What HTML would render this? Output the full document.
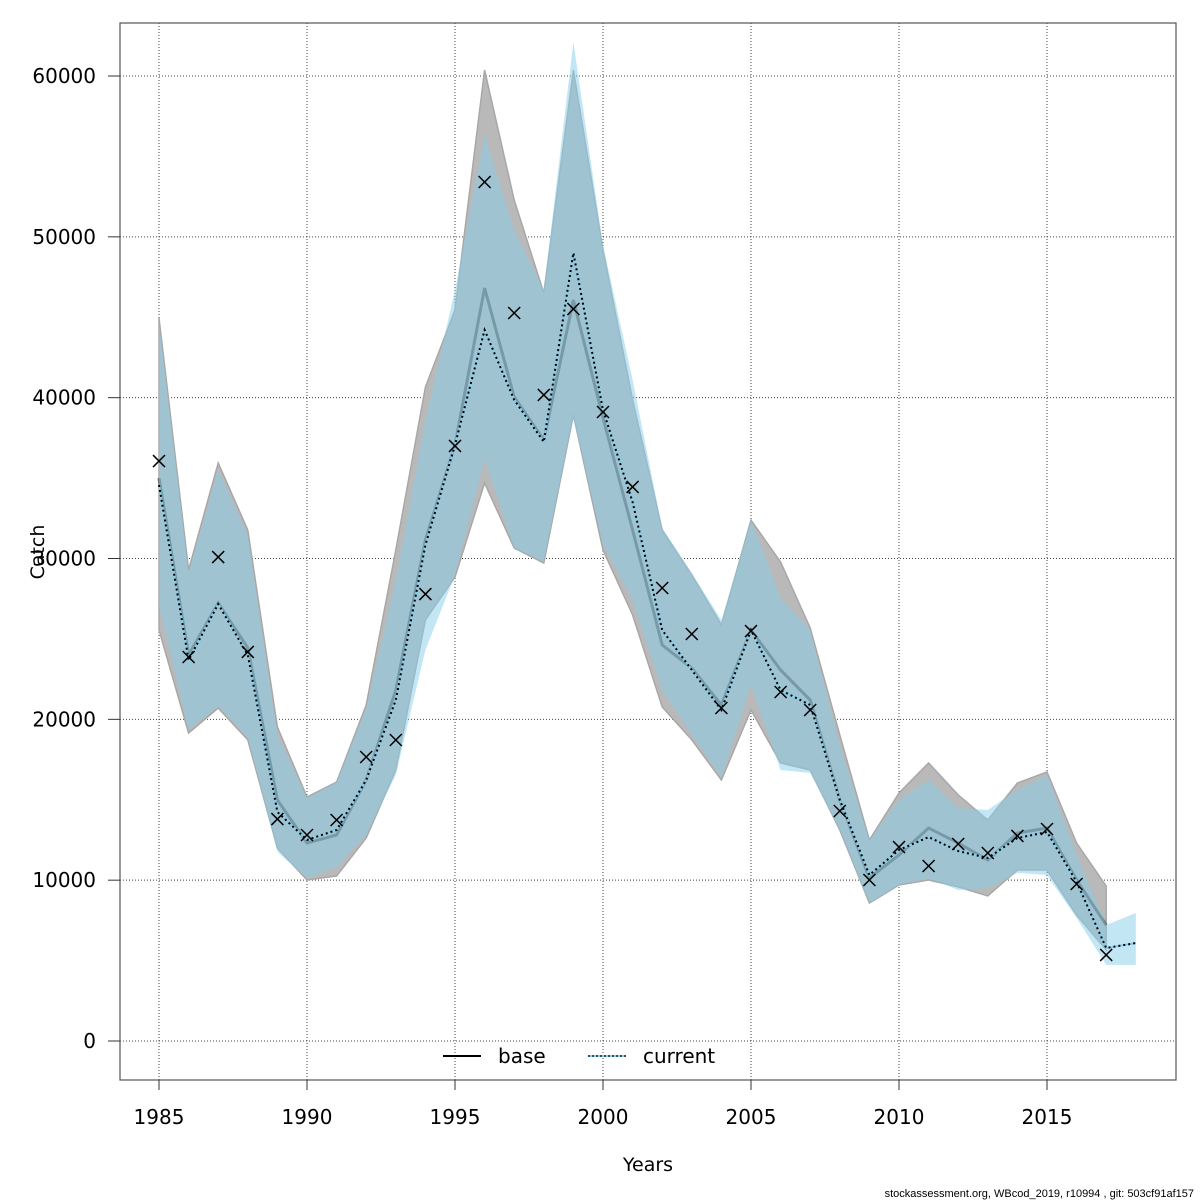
<!DOCTYPE html>
<html><head><meta charset="utf-8"><style>
body{margin:0;background:#fff}
svg{display:block;font-family:"DejaVu Sans","Liberation Sans",sans-serif}
</style></head><body>
<svg id="chart" width="1200" height="1200" xmlns="http://www.w3.org/2000/svg">
<g id="grid"></g>
<g id="bands"></g>
<g id="lines"></g>
<g id="points"></g>
<g id="axes"></g>
<text x="648" y="1171" font-size="19" text-anchor="middle">Years</text>
<text x="0" y="0" font-size="19" text-anchor="middle" transform="translate(44,552) rotate(-90)">Catch</text>
<g>
<line x1="443" y1="1056" x2="481" y2="1056" stroke="#000" stroke-width="2"/>
<text x="498" y="1063" font-size="20">base</text>
<line x1="588" y1="1056" x2="626" y2="1056" stroke="#87ceeb" stroke-width="2"/>
<line x1="588" y1="1056" x2="626" y2="1056" stroke="#000" stroke-width="2" stroke-dasharray="2,2" opacity="0.6"/>
<text x="643" y="1063" font-size="20">current</text>
</g>
<text x="1194" y="1197" font-size="11" text-anchor="end" font-family="Liberation Sans, sans-serif">stockassessment.org, WBcod_2019, r10994 , git: 503cf91af157</text>
</svg>
<script>
const years=[1985,1986,1987,1988,1989,1990,1991,1992,1993,1994,1995,1996,1997,1998,1999,2000,2001,2002,2003,2004,2005,2006,2007,2008,2009,2010,2011,2012,2013,2014,2015,2016,2017];
const yearsCur=[1985,1986,1987,1988,1989,1990,1991,1992,1993,1994,1995,1996,1997,1998,1999,2000,2001,2002,2003,2004,2005,2006,2007,2008,2009,2010,2011,2012,2013,2014,2015,2016,2017,2018];
const observed=[36060,23875,30090,24190,13800,12810,13740,17660,18715,27790,37000,53410,45265,40170,45515,39110,34450,28165,25305,20705,25490,21700,20580,14300,10010,12060,10880,12250,11690,12750,13180,9760,5350];
const baseEst=[35000,24000,27230,24440,14985,12310,12810,16230,21820,31150,37060,46820,40040,37370,46070,38740,31770,24620,23190,20890,25550,23070,21200,14985,10130,11570,13240,12310,11250,12930,13240,10010,7210];
const baseHi=[44950,29290,35940,31770,19520,15170,16100,20890,30530,40660,45450,60370,52290,46510,60370,49180,39860,31770,28970,25870,32390,29780,25680,19030,12500,15420,17290,15300,13740,16040,16730,12310,9640];
const baseLo=[25550,19150,20700,18720,12000,10010,10260,12620,16850,26180,28850,34690,30650,29720,38920,30530,26490,20770,18720,16230,20580,17290,16850,13120,8580,9700,10010,9580,9020,10630,10630,7830,5660];
const curEst=[34570,23690,27170,24000,14240,12500,13120,16230,21200,30840,37060,44210,39860,37250,49000,39230,33510,25550,23070,20580,25550,21820,20890,14985,10320,11880,12680,11810,11380,12620,12990,9890,5780,6090];
const curHi=[44700,29160,35500,31460,19030,15110,16100,20700,28660,38610,46700,56330,50430,46700,62110,49490,41100,31900,29100,26180,32390,27540,25550,18400,12500,14980,16230,14490,14360,15610,16540,11570,7210,7960];
const curLo=[27110,19340,20830,18840,11750,10130,10820,12810,16540,24310,28970,36190,30650,29780,38740,30840,27420,21820,19030,16410,22130,16850,16660,13120,8580,9700,10130,9390,9510,10450,10320,7650,4730,4730];
const xTicks=[1985,1990,1995,2000,2005,2010,2015];
const yTicks=[0,10000,20000,30000,40000,50000,60000];

const X=v=>159+(v-1985)*29.6;
const Y=v=>1041-v*0.016083;
const NS="http://www.w3.org/2000/svg";
function mk(parent,tag,attrs){const e=document.createElementNS(NS,tag);for(const k in attrs)e.setAttribute(k,attrs[k]);parent.appendChild(e);return e;}
const grid=document.getElementById('grid'),bands=document.getElementById('bands'),lines=document.getElementById('lines'),pts=document.getElementById('points'),axes=document.getElementById('axes');

xTicks.forEach(t=>{const l=mk(grid,'line',{x1:X(t),x2:X(t),y1:23,y2:1080,stroke:'#444','stroke-width':1,'stroke-dasharray':'1,2'});

});
yTicks.forEach(t=>{const l=mk(grid,'line',{x1:120,x2:1176,y1:Y(t),y2:Y(t),stroke:'#444','stroke-width':1,'stroke-dasharray':'1,2'});

});

function band(xs,hi,lo,fill,op,stroke){
  let d='M'+xs.map((y,i)=>X(y)+','+Y(hi[i])).join('L');
  for(let i=xs.length-1;i>=0;i--)d+='L'+X(xs[i])+','+Y(lo[i]);
  return mk(bands,'path',{d:d+'Z',fill:fill,'fill-opacity':op,stroke:stroke,'stroke-width':1.5});
}
const gb=band(years,baseHi,baseLo,'#b9b9b9',1,'#a8a8a8');


const bl=mk(bands,'path',{d:'M'+years.map((y,i)=>X(y)+','+Y(baseEst[i])).join('L'),fill:'none',stroke:'#666','stroke-width':3});


const cb=band(yearsCur,curHi,curLo,'#87ceeb',0.5,'none');



const cd='M'+yearsCur.map((y,i)=>X(y)+','+Y(curEst[i])).join('L');
const cl=mk(lines,'path',{d:cd,fill:'none',stroke:'#87ceeb','stroke-width':2});


const cl2=mk(lines,'path',{d:cd,fill:'none',stroke:'#000','stroke-width':2,'stroke-dasharray':'2,3'});



years.forEach((y,i)=>{const x=X(y),yy=Y(observed[i]),s=6;
 const p=mk(pts,'path',{d:`M${x-s},${yy-s}L${x+s},${yy+s}M${x-s},${yy+s}L${x+s},${yy-s}`,stroke:'#000','stroke-width':1.5,fill:'none'});
 
 });

const box=mk(axes,'rect',{x:120,y:23,width:1056,height:1057,fill:'none',stroke:'#555','stroke-width':1.2});


xTicks.forEach(t=>{const l=mk(axes,'line',{x1:X(t),x2:X(t),y1:1080,y2:1090,stroke:'#333'});


const tx=mk(axes,'text',{x:X(t),y:1124,'font-size':20,'text-anchor':'middle'});tx.textContent=t;

});
yTicks.forEach(t=>{const l=mk(axes,'line',{x1:108,x2:120,y1:Y(t),y2:Y(t),stroke:'#333'});


const tx=mk(axes,'text',{x:96,y:Y(t)+7,'font-size':20,'text-anchor':'end'});tx.textContent=t;

});
</script>
</body></html>
